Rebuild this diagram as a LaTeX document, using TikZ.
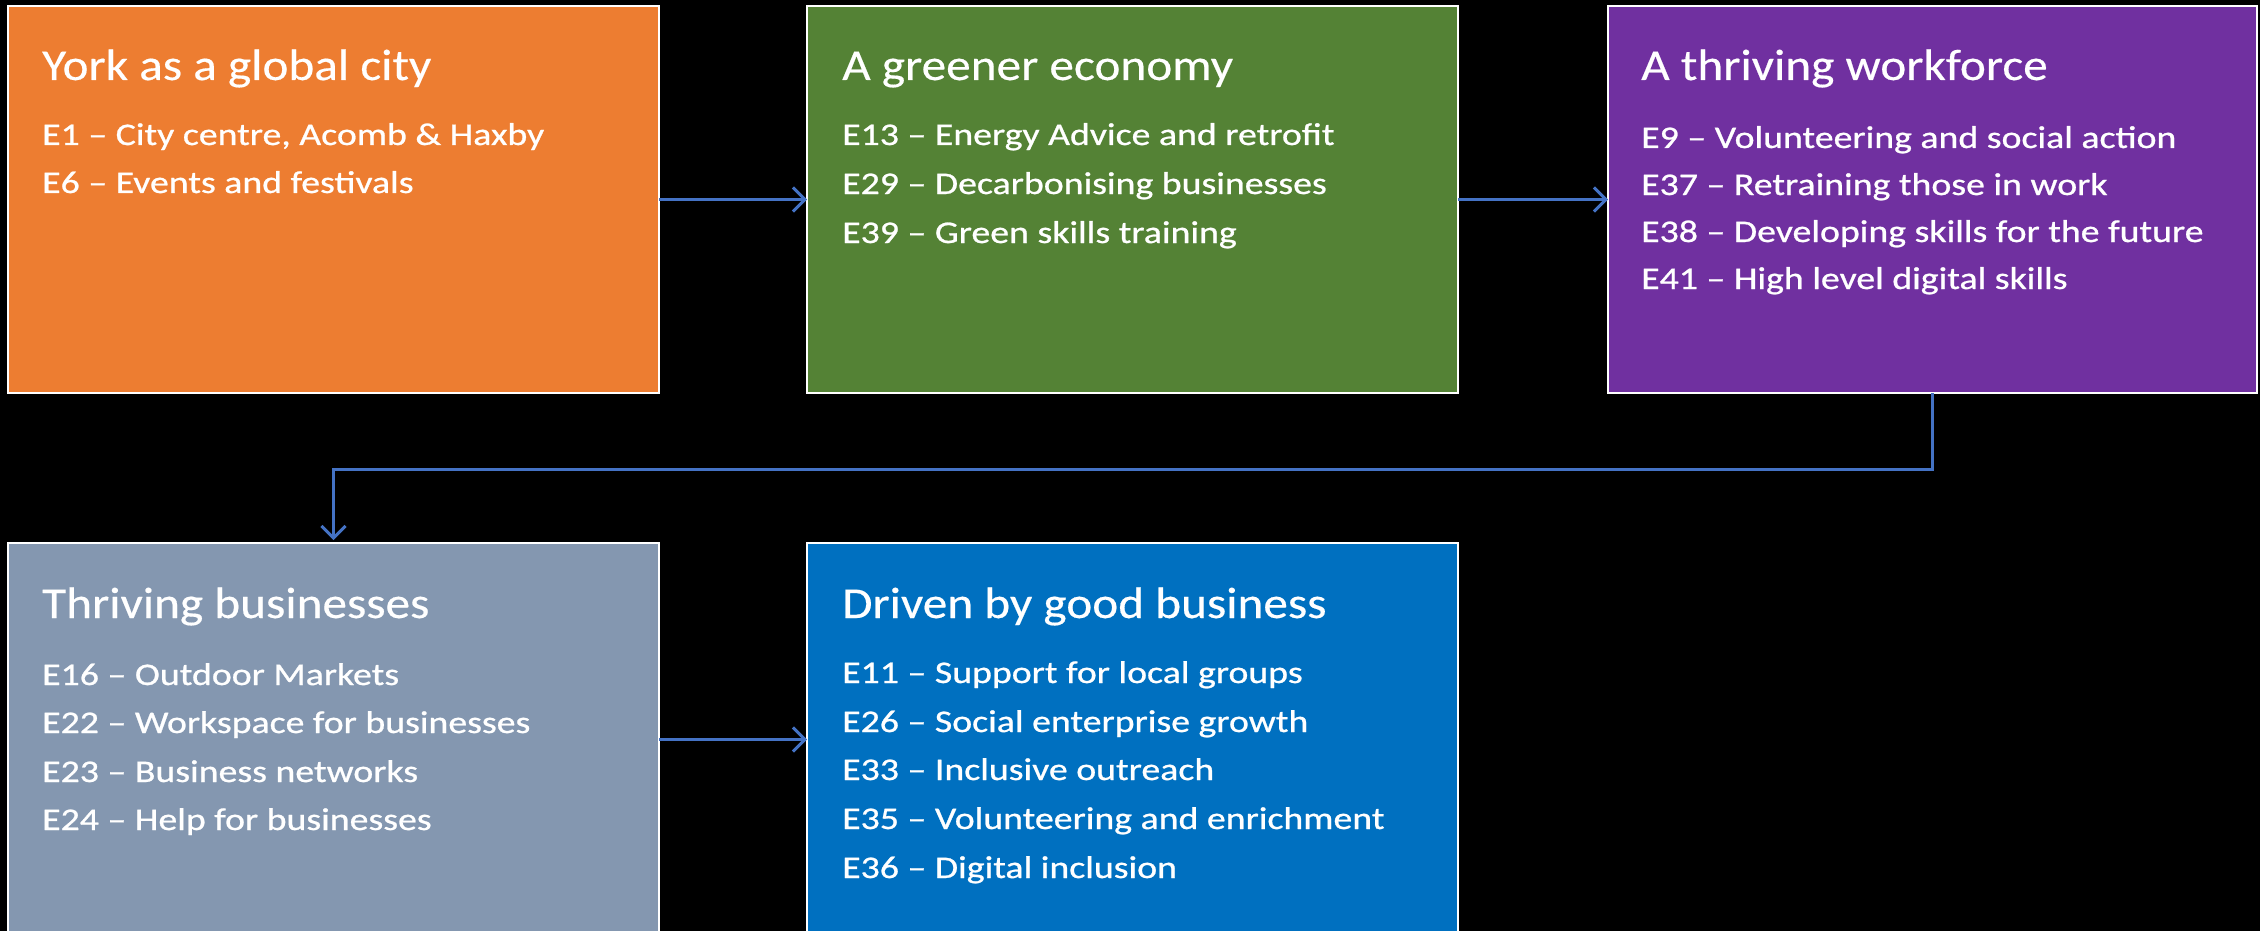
\documentclass[tikz,border=0pt]{standalone}
\usepackage{fontspec}
\setmainfont{Carlito}
\newfontfamily\ttlfont{Carlito}[FakeStretch=1.12,FakeBold=0.4]
\newfontfamily\itmfont{Carlito}[FakeStretch=1.2,FakeBold=0.8]
\usetikzlibrary{arrows.meta}
\definecolor{cOrange}{HTML}{ED7D31}
\definecolor{cGreen}{HTML}{548235}
\definecolor{cPurple}{HTML}{7030A0}
\definecolor{cSlate}{HTML}{8497B0}
\definecolor{cBlue}{HTML}{0070C0}
\definecolor{cArrow}{HTML}{4472C4}
\begin{document}
\begin{tikzpicture}[x=1pt,y=-1pt,
  box/.style={draw=white, line width=2.5pt, rectangle, anchor=north west, minimum width=651pt, minimum height=387pt, inner sep=0pt, outer sep=0pt},
  ttl/.style={anchor=base west, inner sep=0pt, text=white, font=\ttlfont\fontsize{44}{52}\selectfont},
  itm/.style={anchor=base west, inner sep=0pt, text=white, font=\itmfont\fontsize{31.5}{37}\selectfont},
  conn/.style={draw=cArrow, line width=3pt, -{Straight Barb[length=12pt,width=24pt,line width=3pt]}}
]
\fill[black] (0,0) rectangle (2260,931);
\useasboundingbox (0,0) rectangle (2260,931);
\clip (0,0) rectangle (2260,931);

\node[box, fill=cOrange] (b1) at (8,6) {};
\node[box, fill=cGreen] (b2) at (807,6) {};
\node[box, fill=cPurple, minimum width=649pt] (b3) at (1608,6) {};
\node[box, fill=cSlate, minimum height=393pt] (b4) at (8,543) {};
\node[box, fill=cBlue, minimum height=393pt] (b5) at (807,543) {};

% Box 1
\node[ttl] (t1) at (42,80) {York as a global city};
\node[itm] (t1a) at (42,145) {E1 – City centre, Acomb \& Haxby};
\node[itm] (t1b) at (42,193) {E6 – Events and festivals};
% Box 2
\node[ttl] (t2) at (842,80) {A greener economy};
\node[itm] (t2a) at (842,145) {E13 – Energy Advice and retrofit};
\node[itm] (t2b) at (842,194) {E29 – Decarbonising businesses};
\node[itm] (t2c) at (842,243) {E39 – Green skills training};
% Box 3
\node[ttl] (t3) at (1641,80) {A thriving workforce};
\node[itm] (t3a) at (1641,148) {E9 – Volunteering and social action};
\node[itm] (t3b) at (1641,195) {E37 – Retraining those in work};
\node[itm] (t3c) at (1641,242) {E38 – Developing skills for the future};
\node[itm] (t3d) at (1641,289) {E41 – High level digital skills};
% Box 4
\node[ttl] (t4) at (42,618) {Thriving businesses};
\node[itm] (t4a) at (42,685) {E16 – Outdoor Markets};
\node[itm] (t4b) at (42,733) {E22 – Workspace for businesses};
\node[itm] (t4c) at (42,782) {E23 – Business networks};
\node[itm] (t4d) at (42,830) {E24 – Help for businesses};
% Box 5
\node[ttl] (t5) at (842,618) {Driven by good business};
\node[itm] (t5a) at (842,683) {E11 – Support for local groups};
\node[itm] (t5b) at (842,732) {E26 – Social enterprise growth};
\node[itm] (t5c) at (842,780) {E33 – Inclusive outreach};
\node[itm] (t5d) at (842,829) {E35 – Volunteering and enrichment};
\node[itm] (t5e) at (842,878) {E36 – Digital inclusion};

% Connectors
\coordinate (m) at (0,469);
\draw[conn] (b1.east) -- (b2.west);
\draw[conn] (b2.east) -- (b3.west);
\draw[conn] (b3.south) -- (b3.south |- m) -| ([yshift=3pt]b4.north);
\draw[conn] (b4.east) -- (b5.west);
\end{tikzpicture}
\end{document}
